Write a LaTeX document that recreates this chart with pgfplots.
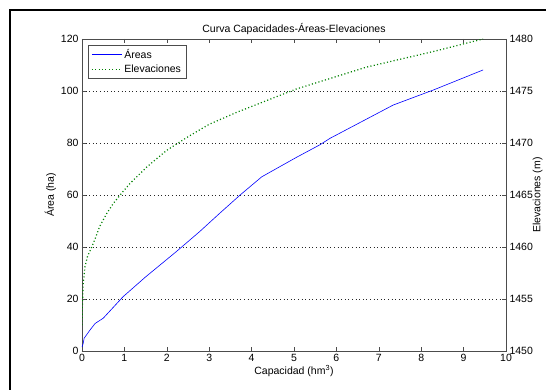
\documentclass[border=0pt]{standalone}
\usepackage{pgfplots}
\pgfplotsset{compat=1.18}
\usepackage{fontspec}
\setmainfont{Liberation Sans}
\begin{document}
\begin{tikzpicture}
\path[use as bounding box] (-82pt,-39pt) rectangle (464pt,351pt);
\pgfplotsset{
  every axis/.append style={
    font=\fontsize{10.5}{12}\selectfont,
    /pgf/number format/assume math mode=true,
    /pgf/number format/set thousands separator={},
    width=424pt, height=312pt, scale only axis,
    at={(0pt,0pt)}, anchor=south west,
    xmin=0, xmax=10,
    tick align=inside,
    major tick length=4pt,
    axis line style={black!70, line width=0.5pt},
    tick style={black!70, line width=0.5pt},
  }
}
\begin{axis}[
  ymin=0, ymax=120,
  xtick={0,1,...,10},
  ytick={0,20,...,120},
  xtick pos=both,
  ytick pos=left,
  ymajorgrids,
  major grid style={black!85, line width=0.4pt, dash pattern=on 0.6pt off 3pt},
  xlabel={Capacidad (hm\textsuperscript{3})},
  ylabel={Área (ha)},
  title={Curva Capacidades-Áreas-Elevaciones},
  title style={yshift=-5pt},
  xlabel style={yshift=3pt},
  ylabel style={yshift=-2pt},
  legend style={at={(0.014,0.981)}, anchor=north west, draw=black!70,
    line width=0.5pt, inner xsep=3pt, inner ysep=2pt, row sep=1pt,
    font=\fontsize{10.5}{12}\selectfont},
  legend cell align=left,
  legend image code/.code={\draw[#1] (0pt,0pt) -- (30pt,0pt);},
]
\addplot[blue, line width=0.6pt] coordinates {
(0,1.5) (0.03,3.0) (0.05,4.9) (0.19,8.1) (0.31,10.6) (0.5,12.6)
(0.97,20.9) (1.5,28.5) (2.23,38.3) (2.78,46) (3.25,53) (3.73,60)
(4.24,67) (5.06,74.5) (5.61,79.3) (5.85,81.8) (7.34,94.6)
(8.29,100.4) (9.46,108.1)
};
\addlegendentry{Áreas}
\addlegendimage{color={rgb,1:red,0;green,0.5;blue,0}, line width=1.2pt, dash pattern=on 1.1pt off 2.3pt}
\addlegendentry{Elevaciones}
\end{axis}
\begin{axis}[
  ymin=1450, ymax=1480,
  ytick={1450,1455,...,1480},
  axis y line*=right,
  axis x line=none,
  ylabel={Elevaciones (m)},
  ylabel style={yshift=7pt},
]
\addplot[color={rgb,1:red,0;green,0.5;blue,0}, line width=1.2pt, dash pattern=on 1.1pt off 2.3pt] coordinates {
(0,1452.5) (0.01,1454.5) (0.03,1456.5) (0.07,1458.1) (0.13,1459.1)
(0.23,1460) (0.31,1460.8) (0.42,1462) (0.58,1463.2) (0.74,1464.2)
(0.94,1465.2) (1.13,1466.1) (1.53,1467.7) (2.0,1469.3)
(2.5,1470.6) (3,1471.8) (3.65,1472.95) (4.43,1474.2) (5.06,1475.2) (5.77,1476.1)
(6.71,1477.3) (8.29,1478.8) (9.46,1480)
};
\end{axis}
\draw[black, line width=2.5pt] (-72pt,-40pt) -- (-72pt,341pt) -- (465pt,341pt);
\end{tikzpicture}
\end{document}
